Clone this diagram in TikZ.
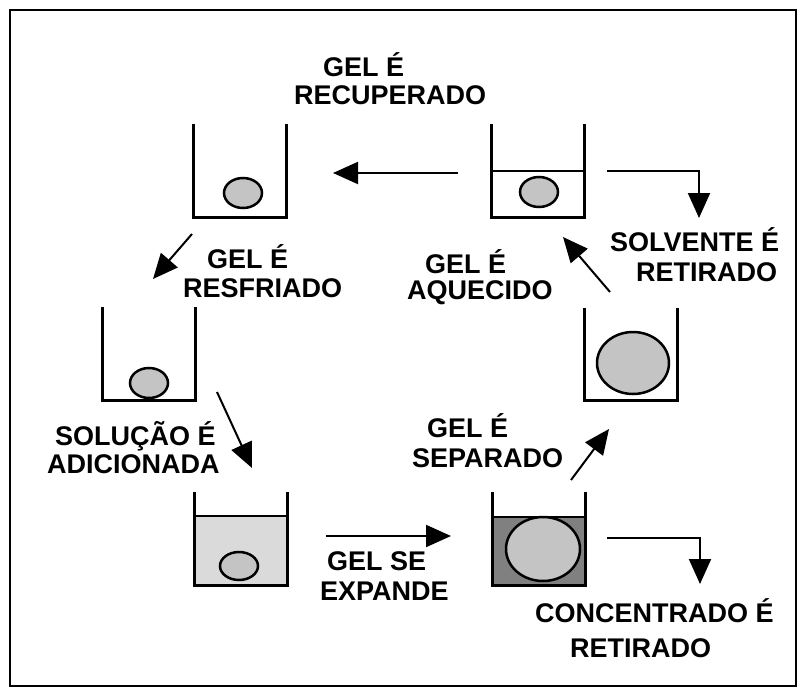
\documentclass[tikz,border=0pt]{standalone}
\usepackage{fontspec}
\setmainfont{Liberation Sans}
\usetikzlibrary{arrows.meta,shapes.geometric}
\definecolor{gelgray}{RGB}{196,196,196}
\definecolor{liqlight}{RGB}{218,218,218}
\definecolor{liqdark}{RGB}{128,128,128}
\newcommand\twoline[5]{\vtop{\baselineskip=#5pt\hbox{\kern#1pt #3}\hbox{\kern#2pt #4}}}
\begin{document}
\begin{tikzpicture}[x=1pt,y=-1pt,
  beakerbox/.style={minimum width=93pt,minimum height=93pt,inner sep=0pt,outer sep=0pt,draw=none},
  wall/.style={line width=3pt,line join=miter},
  surface/.style={line width=2pt},
  gelnode/.style={ellipse,draw,line width=2.5pt,fill=gelgray,inner sep=0pt},
  flow/.style={line width=2pt,-{Triangle[length=25pt,width=22pt]}},
  lbl/.style={anchor=base west,inner sep=0pt,font=\fontsize{27}{30}\selectfont\bfseries}]
\useasboundingbox (0,0) rectangle (803,693);
\draw[line width=2pt] (10,10) rectangle (796,686);

% beakers
\node[beakerbox] (b1) at (240,170.5) {};
\node[beakerbox] (b2) at (538,170.5) {};
\node[beakerbox] (b3) at (148.5,353.5) {};
\node[beakerbox] (b4) at (240.5,538.5) {};
\node[beakerbox] (b5) at (538.5,538.5) {};
\node[beakerbox] (b6) at (631,354) {};

% liquid levels
\coordinate (l2) at (0,171);
\coordinate (l4) at (0,516);
\coordinate (l5) at (0,517);
\fill[liqlight] (b4.south west) rectangle (b4.east |- l4);
\fill[liqdark] (b5.south west) rectangle (b5.east |- l5);
\draw[surface] (b2.west |- l2) -- (b2.east |- l2);
\draw[surface] (b4.west |- l4) -- (b4.east |- l4);
\draw[surface] (b5.west |- l5) -- (b5.east |- l5);

\foreach \b in {b1,b2,b3,b4,b5,b6}
  \draw[wall] (\b.north west) -- (\b.south west) -- (\b.south east) -- (\b.north east);

% gels
\node[gelnode,minimum width=38pt,minimum height=30pt] (g1) at (243,193) {};
\node[gelnode,minimum width=38pt,minimum height=30pt] (g2) at (539,192) {};
\node[gelnode,minimum width=38pt,minimum height=30pt] (g3) at (149,383) {};
\node[gelnode,minimum width=38pt,minimum height=28pt] (g4) at (239,566) {};
\node[gelnode,minimum width=74pt,minimum height=64pt] (g5) at (543,549) {};
\node[gelnode,minimum width=72pt,minimum height=62pt] (g6) at (633,363) {};

% arrow end points
\coordinate (a1s) at (458,173); \coordinate (a1e) at (333,173);
\coordinate (a2s) at (192,234); \coordinate (a2e) at (153,279);
\coordinate (a3s) at (217,392); \coordinate (a3e) at (252,468);
\coordinate (a4s) at (326,536); \coordinate (a4e) at (451,536);
\coordinate (a5s) at (571,480); \coordinate (a5e) at (609,429);
\coordinate (a6s) at (610,292); \coordinate (a6e) at (563,237);
\coordinate (a7s) at (607,171); \coordinate (a7e) at (699,218);
\coordinate (a8s) at (607,538); \coordinate (a8e) at (700,584);

\draw[flow] (a1s) -- (a1e);
\draw[flow] (a2s) -- (a2e);
\draw[flow] (a3s) -- (a3e);
\draw[flow] (a4s) -- (a4e);
\draw[flow] (a5s) -- (a5e);
\draw[flow] (a6s) -- (a6e);
\draw[flow] (a7s) -| (a7e);
\draw[flow] (a8s) -| (a8e);

% labels
\node[lbl] (t1) at (294,77) {\twoline{29}{0}{GEL É}{RECUPERADO}{28}};
\node[lbl] (t2) at (183,268) {\twoline{24}{0}{GEL É}{RESFRIADO}{29}};
\node[lbl] (t3) at (407,273) {\twoline{18}{0}{GEL É}{AQUECIDO}{26}};
\node[lbl] (t4) at (610,251) {\twoline{0}{26}{SOLVENTE É}{RETIRADO}{30}};
\node[lbl] (t5) at (47,445) {\twoline{8}{0}{SOLUÇÃO É}{ADICIONADA}{28}};
\node[lbl] (t6) at (412,437) {\twoline{15}{0}{GEL É}{SEPARADO}{30}};
\node[lbl] (t7) at (320,570) {\twoline{7}{0}{GEL SE}{EXPANDE}{30}};
\node[lbl] (t8) at (535,622) {\twoline{0}{35}{CONCENTRADO É}{RETIRADO}{35}};
\end{tikzpicture}
\end{document}
